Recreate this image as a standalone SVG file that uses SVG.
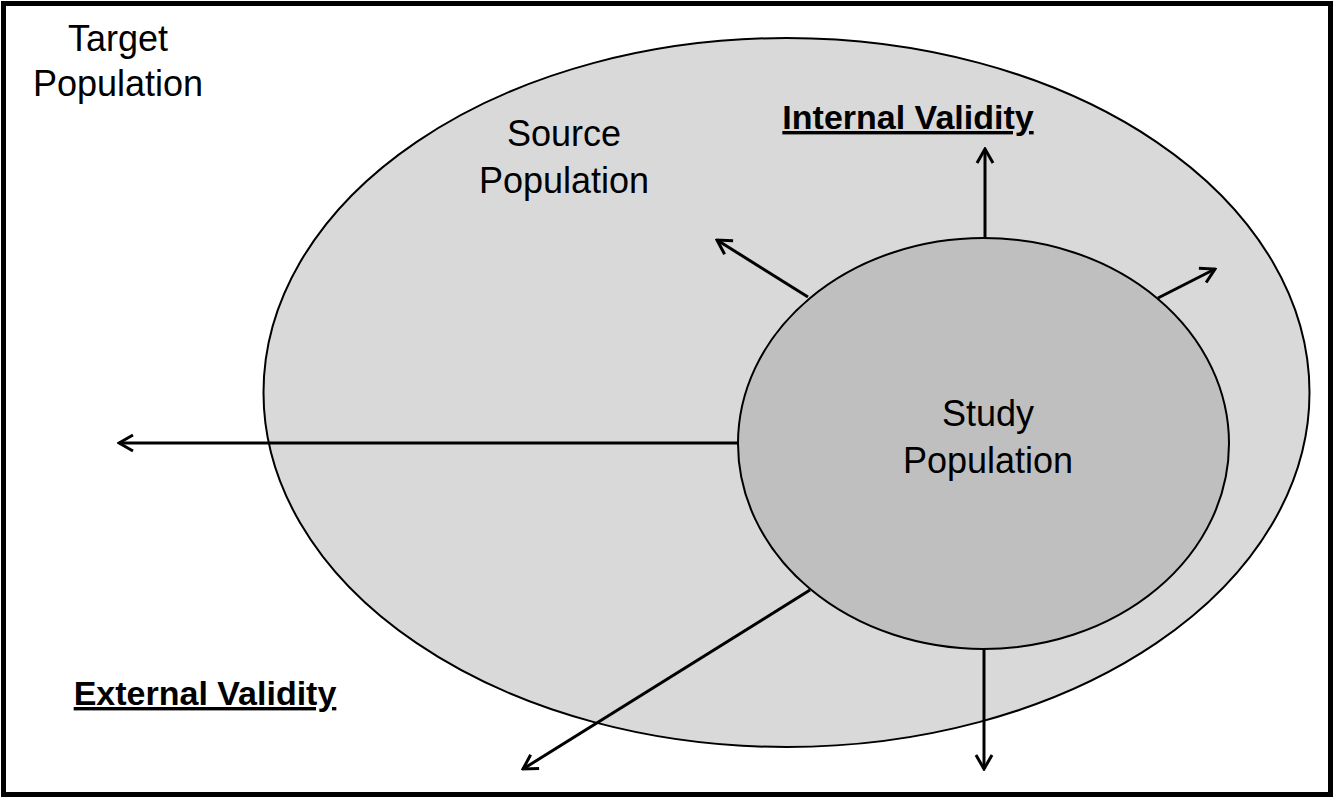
<svg xmlns="http://www.w3.org/2000/svg" width="1334" height="798" viewBox="0 0 1334 798">
<style>
text{font-family:"Liberation Sans",Arial,sans-serif;font-size:36px;fill:#000}
.b{font-weight:bold;text-decoration:underline;font-size:34px}
.ar{stroke:#000;stroke-width:3;fill:none;marker-end:url(#ah)}
</style>
<defs>
<marker id="ah" viewBox="0 0 20 20" refX="18" refY="10" markerWidth="20" markerHeight="20" markerUnits="userSpaceOnUse" orient="auto">
<path d="M4,2 L18,10 L4,18" fill="none" stroke="#000" stroke-width="3"/>
</marker>
</defs>
<rect x="0" y="0" width="1334" height="798" fill="#fff"/>
<rect x="3.5" y="3.5" width="1327" height="791" fill="none" stroke="#000" stroke-width="5"/>
<g id="target"><text x="118" y="51" text-anchor="middle">Target</text><text x="118" y="96" text-anchor="middle">Population</text></g>
<g id="source">
<ellipse cx="786.5" cy="392.5" rx="523" ry="354.5" fill="#d9d9d9" stroke="#000" stroke-width="2"/>
<text x="564" y="146" text-anchor="middle">Source</text><text x="564" y="193" text-anchor="middle">Population</text>
</g>
<g id="study">
<ellipse cx="983.5" cy="443.5" rx="245.5" ry="205.5" fill="#bfbfbf" stroke="#000" stroke-width="2"/>
<text x="988" y="426" text-anchor="middle">Study</text><text x="988" y="473" text-anchor="middle">Population</text>
</g>
<g id="internal"><text class="b" x="908" y="129" text-anchor="middle">Internal Validity</text></g>
<g id="external"><text class="b" x="205" y="705" text-anchor="middle">External Validity</text></g>
<g id="connectors">
<line class="ar" x1="985" y1="238" x2="985" y2="149"/>
<line class="ar" x1="808" y1="297" x2="717" y2="240"/>
<line class="ar" x1="1158" y1="298" x2="1215" y2="269"/>
<line class="ar" x1="738" y1="443" x2="119" y2="443"/>
<line class="ar" x1="810" y1="590" x2="523" y2="769"/>
<line class="ar" x1="984" y1="649" x2="984" y2="769"/>
</g>
</svg>
